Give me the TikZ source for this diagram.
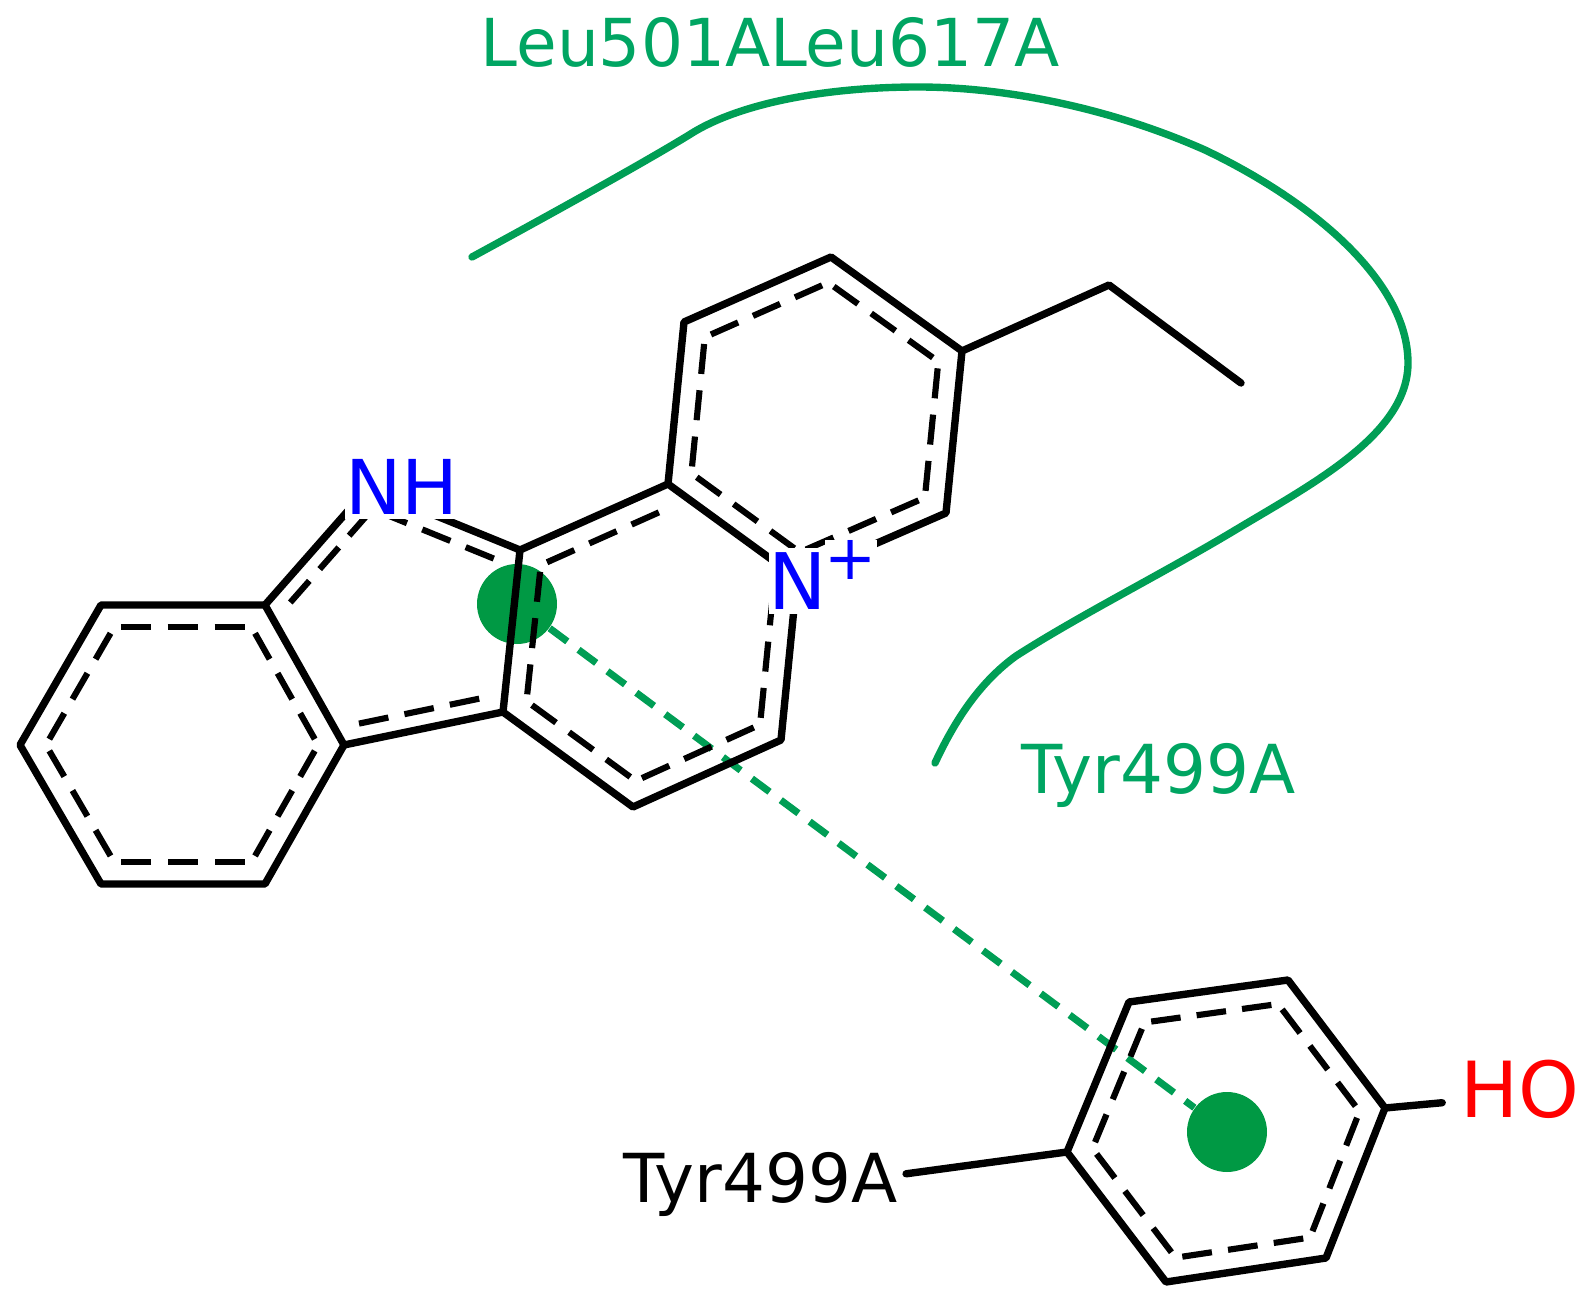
\documentclass[tikz,border=0pt]{standalone}
\usepackage{fontspec}
\setmainfont{DejaVu Sans}
\usetikzlibrary{calc}

\definecolor{contact}{HTML}{009E55}
\definecolor{sitetext}{HTML}{00A562}
\definecolor{stack}{HTML}{009944}

\tikzset{
  bond/.style={black, line width=2.1pt, line cap=round, line join=round},
  innerdash/.style={black, line width=1.75pt},
  atomlabel/.style={fill=white, inner xsep=0pt, inner ysep=1.2pt, font=\fontsize{22.2pt}{26pt}\selectfont},
  sitelabel/.style={anchor=base west, inner sep=0pt, font=\fontsize{19.2pt}{23pt}\selectfont},
  stackdot/.style={circle, fill=stack, minimum size=80*0.01cm, inner sep=0pt}
}

% three dashes on the inner side of a ring bond
\newcommand{\innerbond}[3]{
  \coordinate (ia) at ($(#1)!.16!(#3)$);
  \coordinate (ib) at ($(#2)!.16!(#3)$);
  \foreach \s/\e in {.05/.27, .39/.61, .73/.95}
    \draw [innerdash] ($(ia)!\s!(ib)$) -- ($(ia)!\e!(ib)$);
}

\begin{document}
\begin{tikzpicture}[x=0.01cm, y=-0.01cm]
  \useasboundingbox (0,0) rectangle (1587,1300);

  % benzene ring
  \coordinate (b1) at (101,605);
  \coordinate (b2) at (265,605);
  \coordinate (b3) at (344,745);
  \coordinate (b4) at (265,884);
  \coordinate (b5) at (101,884);
  \coordinate (b6) at (20,745);
  \coordinate (bc) at (182,745);

  % five ring
  \coordinate (nh1) at (368,488);
  \coordinate (c1) at (520,550);
  \coordinate (c2) at (503,712);
  \coordinate (fc) at (396,620);

  % middle ring
  \coordinate (c3) at (668,484);
  \coordinate (n1) at (797,578);
  \coordinate (c4) at (781,740);
  \coordinate (c5) at (633,807);
  \coordinate (mc) at (650,644);

  % pyridine ring and ethyl
  \coordinate (p1) at (684,322);
  \coordinate (p2) at (831,257);
  \coordinate (p3) at (962,351);
  \coordinate (p4) at (946,513);
  \coordinate (pc) at (814,417);
  \coordinate (e1) at (1109,285);
  \coordinate (e2) at (1241,383);

  % phenol ring
  \coordinate (t1) at (1129,1002);
  \coordinate (t2) at (1288,980);
  \coordinate (t3) at (1385,1108);
  \coordinate (t4) at (1326,1258);
  \coordinate (t5) at (1166,1282);
  \coordinate (t6) at (1067,1152);
  \coordinate (tc) at (1226,1130);

  % pi stacking
  \node (pi1) [stackdot] at (517,604) {};
  \node (pi2) [stackdot] at (1227,1132) {};
  \draw [contact, line width=2pt, dash pattern=on 22*0.01cm off 14*0.01cm] (pi1) -- (pi2);

  % contact curve
  \draw [contact, line width=2.1pt, line cap=round] (472,257)
    .. controls (540,220) and (640,165) .. (689,135)
    .. controls (740,102) and (830,87) .. (918,87)
    .. controls (1010,87) and (1115,110) .. (1205,150)
    .. controls (1310,200) and (1408,280) .. (1408,363)
    .. controls (1408,435) and (1310,485) .. (1232,532)
    .. controls (1160,575) and (1080,615) .. (1016,656)
    .. controls (980,682) and (955,720) .. (935,763);

  % bonds
  \draw [bond] (b1) -- (b2) -- (b3) -- (b4) -- (b5) -- (b6) -- cycle;
  \draw [bond] (b2) -- (nh1) -- (c1) -- (c2) -- (b3);
  \draw [bond] (c1) -- (c3) -- (n1) -- (c4) -- (c5) -- (c2);
  \draw [bond] (c3) -- (p1) -- (p2) -- (p3) -- (p4) -- (n1);
  \draw [bond] (p3) -- (e1) -- (e2);
  \draw [bond] (t1) -- (t2) -- (t3) -- (t4) -- (t5) -- (t6) -- cycle;

  \foreach \a/\b in {b1/b2, b2/b3, b3/b4, b4/b5, b5/b6, b6/b1}
    \innerbond{\a}{\b}{bc};
  \foreach \a/\b in {b2/nh1, nh1/c1, c2/b3}
    \innerbond{\a}{\b}{fc};
  \foreach \a/\b in {c1/c3, n1/c4, c4/c5, c5/c2, c2/c1}
    \innerbond{\a}{\b}{mc};
  \foreach \a/\b in {c3/p1, p1/p2, p2/p3, p3/p4, p4/n1, n1/c3}
    \innerbond{\a}{\b}{pc};
  \foreach \a/\b in {t1/t2, t2/t3, t3/t4, t4/t5, t5/t6, t6/t1}
    \innerbond{\a}{\b}{tc};

  % atoms
  \node (nh) [atomlabel, text=blue, font=\fontsize{21.5pt}{26pt}\selectfont] at (402,487) {NH};
  \node (nplus) [atomlabel, text=blue] at (798,581) {N};
  \node (charge) [atomlabel, text=blue, inner ysep=0pt, font=\fontsize{17.7pt}{20pt}\selectfont] at (851,560) {+};

  % labels
  \node (leu) [sitelabel, text=sitetext, font=\fontsize{18.8pt}{22pt}\selectfont] at (480,67) {Leu501ALeu617A};
  \node (tyrsite) [sitelabel, text=sitetext] at (1021,793) {Tyr499A};
  \node (tyr) [sitelabel, inner xsep=2.3pt] at (615,1202) {Tyr499A};
  \node (ho) [text=red, inner xsep=5pt, inner ysep=0pt, font=\fontsize{22pt}{26pt}\selectfont] at (1520,1089) {HO};

  \draw [bond] (t6) -- (tyr.4);
  \draw [bond] (t3) -- (ho.190);
\end{tikzpicture}
\end{document}
